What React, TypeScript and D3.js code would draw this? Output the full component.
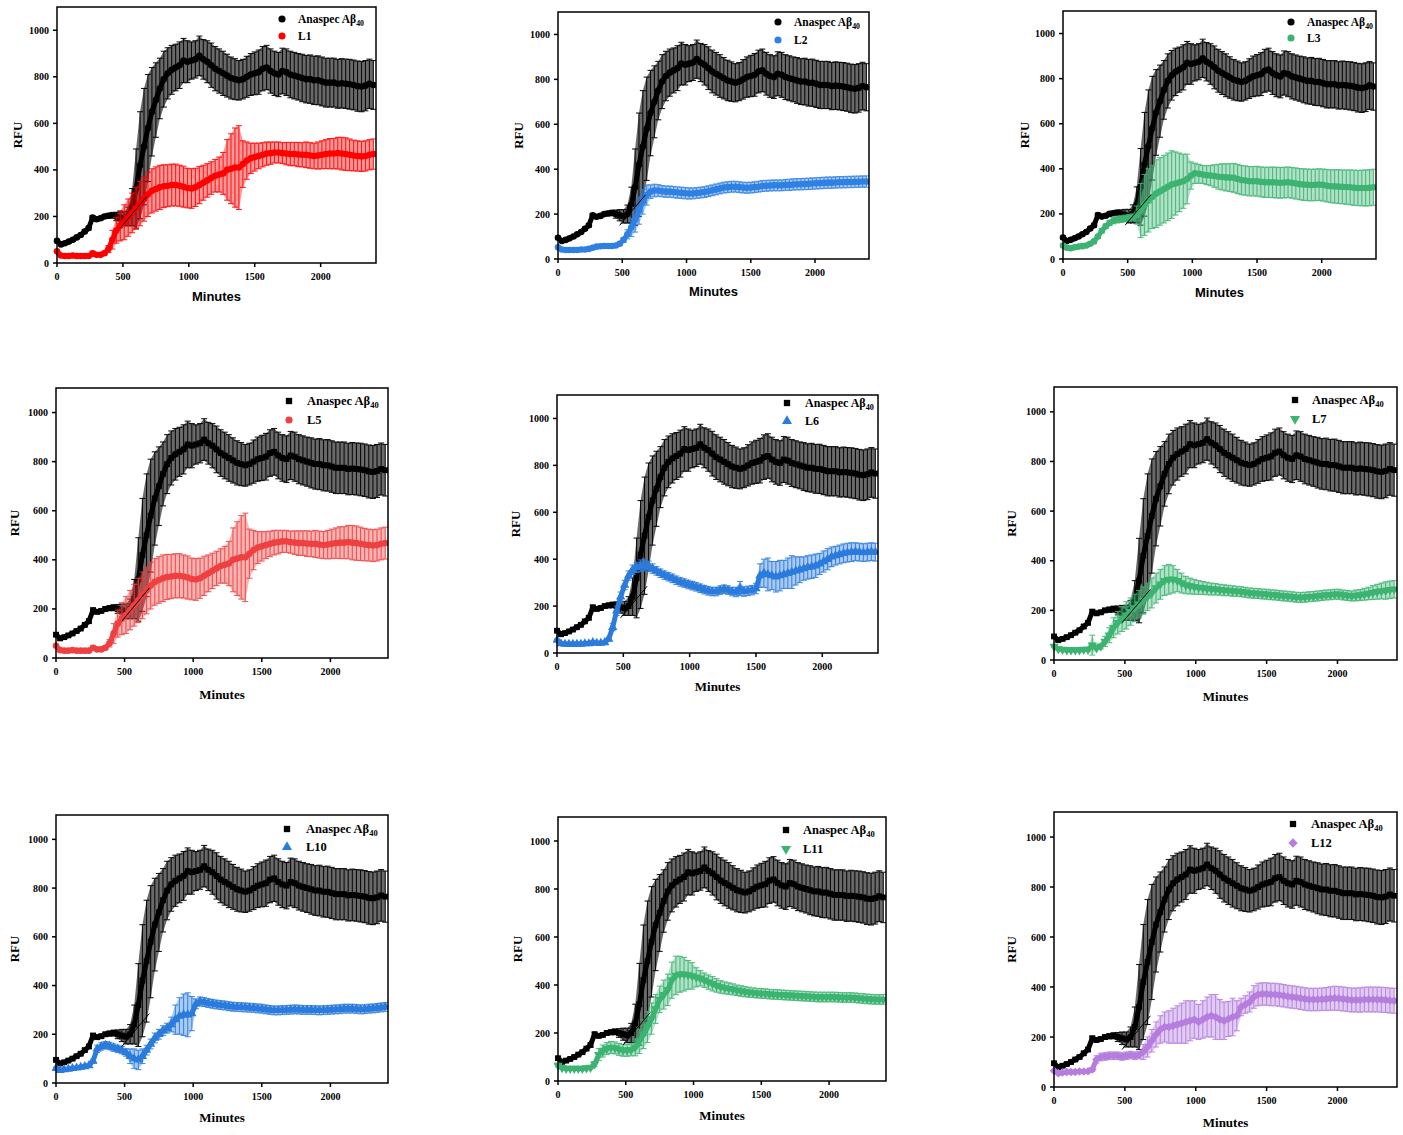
import React from 'react';
import * as d3 from 'd3';

// ---------- DATA ----------
const minutes = [0,30,60,90,120,150,180,210,240,270,300,330,360,390,420,450,480,510,540,570,600,630,660,690,720,750,780,810,840,870,900,930,960,990,1020,1050,1080,1110,1140,1170,1200,1230,1260,1290,1320,1350,1380,1410,1440,1470,1500,1530,1560,1590,1620,1650,1680,1710,1740,1770,1800,1830,1860,1890,1920,1950,1980,2010,2040,2070,2100,2130,2160,2190,2220,2250,2280,2310,2340,2370,2400];

const xTicks = [0, 500, 1000, 1500, 2000];
const yTicks = [0, 200, 400, 600, 800, 1000];

const abMean = [95,80,85,92,100,110,120,135,150,195,188,192,200,203,205,200,195,190,200,240,320,420,500,580,650,700,750,790,815,830,840,850,870,865,870,875,890,875,865,850,835,825,815,805,795,790,785,790,800,810,815,820,835,840,825,815,810,825,820,810,805,800,795,790,790,785,785,780,775,775,775,770,772,770,768,765,760,758,762,770,765];
const abErr = [6,6,6,6,6,6,6,7,8,8,8,8,8,10,12,18,25,30,40,80,170,230,250,230,190,160,130,120,110,105,100,100,95,90,80,80,85,85,90,95,95,95,95,92,90,88,85,85,88,90,92,95,95,95,95,95,95,98,100,100,100,100,102,102,104,104,105,105,105,105,105,105,106,106,107,107,108,108,108,106,105];
const abFitMinutes = [480, 680];
const abFitRFU = [150, 285];

const l1Mean = [50,32,30,30,32,30,30,30,30,42,35,35,42,60,100,140,160,175,195,215,235,255,275,295,310,318,325,330,332,335,335,332,328,322,320,325,335,345,355,365,375,380,385,400,405,410,410,425,440,450,455,460,465,470,472,475,475,472,470,468,468,466,465,465,462,460,462,465,468,470,470,472,470,468,465,462,460,458,460,465,468];
const l1Err = [5,5,5,5,5,5,5,5,5,8,6,6,8,15,40,55,65,75,80,85,90,95,95,95,95,95,95,92,90,90,90,88,88,85,85,82,80,75,72,70,70,75,90,130,150,170,180,100,80,65,60,55,52,50,48,45,45,45,48,50,50,52,52,55,55,55,58,60,62,65,65,68,70,70,68,66,65,65,65,65,65];

const l2Mean = [52,42,40,40,40,40,42,42,45,50,55,57,58,58,58,60,68,85,110,140,175,215,255,285,300,305,305,302,300,300,298,296,295,293,292,292,294,296,298,302,306,310,314,318,320,322,322,320,318,317,318,320,322,325,326,327,328,328,328,330,330,332,333,333,334,335,336,337,338,339,340,340,341,342,342,343,343,344,344,345,345];
const l2Err = [4,4,4,4,4,4,4,4,4,4,4,4,4,4,4,5,6,10,20,40,55,60,55,45,30,28,26,25,25,25,25,25,25,25,25,24,24,24,24,24,24,24,24,24,24,24,24,24,24,24,24,24,24,24,24,24,24,24,24,24,25,25,25,25,25,25,25,25,25,25,25,25,25,25,25,25,25,25,25,25,25];

const l3Mean = [60,50,48,52,55,57,60,68,78,100,125,145,160,170,175,177,180,182,185,195,215,240,260,275,290,300,310,320,330,335,340,345,355,370,380,378,375,372,370,368,365,364,362,361,360,355,350,348,345,345,345,342,340,340,340,339,338,339,340,338,335,332,330,329,328,329,330,328,325,323,322,321,320,319,318,316,315,315,315,316,318];
const l3Err = [8,8,8,8,8,8,8,8,8,8,10,10,12,14,15,15,15,15,15,40,120,135,140,140,150,150,150,150,150,140,130,120,110,60,45,42,40,42,45,50,55,58,60,62,64,65,65,65,65,65,66,66,67,67,68,68,68,68,68,68,69,69,70,70,70,70,70,71,72,73,74,75,75,76,77,78,78,79,80,80,80];

const l5Mean = [50,32,30,30,32,30,30,30,30,42,35,35,42,60,100,140,160,175,195,215,235,255,275,295,310,318,325,330,332,335,335,332,328,322,320,325,335,345,355,365,375,380,385,400,405,410,410,425,440,450,455,460,465,470,472,475,475,472,470,468,468,466,465,465,462,460,462,465,468,470,470,472,470,468,465,462,460,458,460,465,468];
const l5Err = [5,5,5,5,5,5,5,5,5,8,6,6,8,15,40,55,65,75,80,85,90,95,95,95,95,95,95,92,90,90,90,88,88,85,85,82,80,75,72,70,70,75,90,130,150,170,180,100,80,65,60,55,52,50,48,45,45,45,48,50,50,52,52,55,55,55,58,60,62,65,65,68,70,70,68,66,65,65,65,65,65];

const l6Mean = [55,40,38,38,38,38,38,40,40,45,42,42,45,60,110,180,240,290,330,355,365,372,375,370,360,350,340,332,325,318,310,303,298,292,287,282,276,270,265,262,262,268,272,268,262,260,275,262,265,268,275,330,340,335,330,325,330,335,340,345,350,355,360,365,368,372,380,390,400,410,415,420,425,428,430,432,430,428,430,432,430];
const l6Err = [4,4,4,4,4,4,4,4,4,6,4,4,4,8,15,20,20,20,20,20,22,25,25,22,20,18,18,18,18,18,18,18,18,18,18,18,18,18,18,18,18,18,18,18,18,20,30,20,20,20,22,50,60,70,60,65,65,60,65,70,60,55,50,50,50,50,45,45,45,42,40,40,40,40,40,38,38,38,38,38,38];

const l7Mean = [55,45,42,40,40,40,40,42,42,60,48,55,75,100,130,150,165,180,195,210,225,240,255,270,290,305,320,325,325,320,310,302,298,295,292,290,288,286,285,283,281,280,278,277,275,273,270,269,268,266,265,263,262,260,258,257,255,253,252,253,255,256,258,260,262,263,265,265,262,260,258,260,262,265,268,272,275,278,280,283,285];
const l7Err = [4,4,4,4,4,4,4,4,4,40,5,10,20,30,40,45,50,55,55,55,55,55,55,60,60,60,60,60,55,45,40,35,32,30,28,26,25,24,23,22,22,21,21,20,20,20,20,20,20,20,20,20,20,20,20,20,20,20,20,20,20,20,20,20,20,20,20,20,20,20,20,22,22,24,25,28,30,32,35,35,35];

const l10Mean = [60,52,55,57,60,62,65,68,72,90,140,150,155,152,145,140,135,125,110,100,95,110,135,160,185,200,215,225,240,260,275,280,280,285,325,335,332,328,325,322,320,318,315,313,312,311,310,309,308,306,305,302,300,298,298,299,300,301,302,301,300,300,300,299,298,299,300,301,302,303,305,305,305,304,302,303,305,306,308,310,312];
const l10Err = [5,5,5,5,5,5,5,5,5,8,15,15,15,15,15,15,15,15,30,40,40,30,20,20,20,20,20,20,30,60,75,85,90,70,20,18,18,18,18,18,18,18,18,18,18,18,18,18,18,18,18,18,18,18,18,18,18,18,18,18,18,18,18,18,18,18,18,18,18,18,18,18,18,18,18,18,18,18,18,18,18];

const l11Mean = [65,55,52,52,52,52,52,54,56,70,110,125,135,140,138,132,128,128,130,140,165,195,225,260,300,340,360,380,420,440,445,445,442,438,432,428,420,412,405,398,392,388,385,382,378,375,372,370,368,366,365,364,362,361,360,359,358,357,356,355,354,353,352,351,350,350,350,350,350,349,348,348,348,347,345,344,342,341,340,340,340];
const l11Err = [5,5,5,5,5,5,5,5,5,10,25,25,25,25,25,25,25,25,25,35,50,60,65,65,60,55,60,65,75,80,75,70,60,55,40,32,30,30,30,28,26,25,24,23,22,22,21,21,20,20,20,20,20,20,20,20,20,20,20,20,20,20,20,20,20,20,20,20,20,20,20,20,20,20,20,20,20,20,20,20,20];

const l12Mean = [65,55,58,60,60,60,62,62,63,70,110,120,122,125,125,125,122,125,128,125,128,140,160,185,210,230,240,240,245,250,255,260,265,270,260,270,280,285,280,270,265,272,280,285,320,330,340,360,370,372,372,370,370,368,365,362,360,358,355,352,350,350,350,351,352,354,355,354,352,350,348,348,348,350,350,350,350,349,348,346,345];
const l12Err = [5,5,5,5,5,5,5,5,5,8,15,15,15,15,15,15,15,15,15,15,15,30,40,45,50,55,60,65,70,75,80,85,80,75,70,75,80,85,90,80,75,70,75,60,35,35,40,45,45,45,45,45,45,45,45,45,45,45,45,45,45,45,45,45,46,47,48,48,48,48,48,48,49,49,50,50,50,50,50,50,50];

const refLabel = 'Anaspec Aβ';
const refSub = '40';
const xTitle = 'Minutes';
const yTitle = 'RFU';

// ---------- LAYOUT / STYLE ----------
type PanelCfg = {
  name: string; mean: number[]; err: number[]; color: string;
  abShape: string; shape: string;
  frame: [number, number, number, number];
  leg: [number, number, number, number];
  legFont: number; titleSans: boolean; yOff: number; xOff: number;
};

const panels: PanelCfg[] = [
  { name: 'L1', mean: l1Mean, err: l1Err, color: '#ff0000', abShape: 'circle', shape: 'circle', frame: [57, 7, 376, 263], leg: [282, 19, 36, 298], legFont: 11.5, titleSans: true, yOff: 40, xOff: 33 },
  { name: 'L2', mean: l2Mean, err: l2Err, color: '#2f80e3', abShape: 'circle', shape: 'circle', frame: [558, 12, 869, 259], leg: [778, 22, 40, 794], legFont: 11.5, titleSans: true, yOff: 40, xOff: 32 },
  { name: 'L3', mean: l3Mean, err: l3Err, color: '#3cb371', abShape: 'circle', shape: 'circle', frame: [1063, 11, 1376, 259], leg: [1291, 22, 38, 1307], legFont: 11.5, titleSans: true, yOff: 39, xOff: 33 },
  { name: 'L5', mean: l5Mean, err: l5Err, color: '#ee4040', abShape: 'square', shape: 'circle', frame: [56, 388, 388, 658], leg: [289, 401, 420, 307], legFont: 12.5, titleSans: false, yOff: 42, xOff: 36 },
  { name: 'L6', mean: l6Mean, err: l6Err, color: '#2a7bdc', abShape: 'square', shape: 'triangle', frame: [557, 395, 878, 653], leg: [787, 403, 421, 805], legFont: 12, titleSans: false, yOff: 42, xOff: 33 },
  { name: 'L7', mean: l7Mean, err: l7Err, color: '#3cb371', abShape: 'square', shape: 'triangleDown', frame: [1054, 387, 1397, 660], leg: [1295, 400, 419, 1312], legFont: 12.5, titleSans: false, yOff: 43, xOff: 36 },
  { name: 'L10', mean: l10Mean, err: l10Err, color: '#2a7bdc', abShape: 'square', shape: 'triangle', frame: [56, 815, 388, 1083], leg: [287, 829, 847, 306], legFont: 12.5, titleSans: false, yOff: 42, xOff: 34 },
  { name: 'L11', mean: l11Mean, err: l11Err, color: '#3cb371', abShape: 'square', shape: 'triangleDown', frame: [558, 817, 886, 1081], leg: [786, 830, 849, 803], legFont: 12.5, titleSans: false, yOff: 41, xOff: 34 },
  { name: 'L12', mean: l12Mean, err: l12Err, color: '#b57ede', abShape: 'square', shape: 'diamond', frame: [1054, 812, 1397, 1087], leg: [1293, 824, 843, 1311], legFont: 12.5, titleSans: false, yOff: 43, xOff: 35 },
];

const SERIF = '"Liberation Serif", "Times New Roman", serif';
const SANS = '"Liberation Sans", Arial, sans-serif';

function symbolPath(shape: string, size: number): { d: string; rot: number } {
  let type: d3.SymbolType = d3.symbolCircle;
  let rot = 0;
  if (shape === 'square') type = d3.symbolSquare;
  else if (shape === 'triangle') type = d3.symbolTriangle;
  else if (shape === 'triangleDown') { type = d3.symbolTriangle; rot = 180; }
  else if (shape === 'diamond') { type = d3.symbolSquare; rot = 45; }
  return { d: d3.symbol().type(type).size(size)() as string, rot };
}

function Series({ mean, err, color, shape, x, y, barColor, barWidth, barOpacity, bandFill, bandOpacity, size }: any) {
  const sym = symbolPath(shape, size);
  const cap = 3;
  const area = d3.area<number>()
    .x((_, i) => x(minutes[i]))
    .y0((m, i) => y(Math.max(0, m - err[i])))
    .y1((m, i) => y(m + err[i]))(mean) as string;
  const line = d3.line<number>().x((_, i) => x(minutes[i])).y((m) => y(m))(mean) as string;
  return (
    <g>
      <path d={area} fill={bandFill} opacity={bandOpacity} />
      <g stroke={barColor} strokeWidth={barWidth} opacity={barOpacity} fill="none">
        {mean.map((m: number, i: number) => {
          const xi = x(minutes[i]);
          const y1 = y(m + err[i]);
          const y0 = y(Math.max(0, m - err[i]));
          return (
            <g key={i}>
              <line x1={xi} x2={xi} y1={y0} y2={y1} />
              <line x1={xi - cap} x2={xi + cap} y1={y1} y2={y1} />
              <line x1={xi - cap} x2={xi + cap} y1={y0} y2={y0} />
            </g>
          );
        })}
      </g>
      <path d={line} fill="none" stroke={color} strokeWidth={5} strokeLinejoin="round" strokeLinecap="round" />
      <g fill={color}>
        {mean.map((m: number, i: number) => (
          <path key={i} d={sym.d} transform={`translate(${x(minutes[i])},${y(m)}) rotate(${sym.rot})`} />
        ))}
      </g>
    </g>
  );
}

function Panel({ p }: { p: PanelCfg }) {
  const [l, t, r, b] = p.frame;
  const x = d3.scaleLinear().domain([0, 2420]).range([l, r]);
  const y = d3.scaleLinear().domain([0, 1100]).range([b, t]);
  const fitLine = d3.line<number>().x((_, i) => x(abFitMinutes[i])).y((v) => y(v))(abFitRFU) as string;
  const abSym = symbolPath(p.abShape, 40);
  const ligSym = symbolPath(p.shape, p.shape === 'circle' ? 40 : 44);
  const [mx, r1, r2, tx] = p.leg;
  const clipId = `clip-${p.name}`;
  return (
    <g>
      <defs>
        <clipPath id={clipId}>
          <rect x={l - 4} y={t} width={r - l + 4} height={b - t + 1} />
        </clipPath>
      </defs>
      <g clipPath={`url(#${clipId})`}>
        <Series mean={abMean} err={abErr} color="#000" shape={p.abShape} x={x} y={y} barColor="#000" barWidth={1.1} barOpacity={0.9} bandFill="#5a5a5a" bandOpacity={0.9} size={34} />
        <Series mean={p.mean} err={p.err} color={p.color} shape={p.shape} x={x} y={y} barColor={p.color} barWidth={1.1} barOpacity={0.85} bandFill={p.color} bandOpacity={0.4} size={p.shape === 'circle' ? 34 : 38} />
        <path d={fitLine} stroke="#000" strokeWidth={1} fill="none" />
      </g>
      <rect x={l} y={t} width={r - l} height={b - t} fill="none" stroke="#000" strokeWidth={1.5} />
      {xTicks.map((v) => (
        <g key={'x' + v}>
          <line x1={x(v)} x2={x(v)} y1={b} y2={b + 4} stroke="#000" strokeWidth={1.5} />
          <text x={x(v)} y={b + 17} textAnchor="middle" fontFamily={SERIF} fontWeight="bold" fontSize={10}>{v}</text>
        </g>
      ))}
      {yTicks.map((v) => (
        <g key={'y' + v}>
          <line x1={l - 4} x2={l} y1={y(v)} y2={y(v)} stroke="#000" strokeWidth={1.5} />
          <text x={l - 8} y={y(v) + 3.5} textAnchor="end" fontFamily={SERIF} fontWeight="bold" fontSize={10}>{v}</text>
        </g>
      ))}
      <text x={(l + r) / 2} y={b + p.xOff + 4.5} textAnchor="middle" fontFamily={p.titleSans ? SANS : SERIF} fontWeight="bold" fontSize={13}>{xTitle}</text>
      <text transform={`translate(${l - p.yOff + 4.5},${(t + b) / 2}) rotate(-90)`} textAnchor="middle" fontFamily={SERIF} fontWeight="bold" fontSize={13}>{yTitle}</text>
      <path d={abSym.d} transform={`translate(${mx},${r1}) rotate(${abSym.rot})`} fill="#000" />
      <text x={tx} y={r1 + 4} fontFamily={SERIF} fontWeight="bold" fontSize={p.legFont}>
        {refLabel}
        <tspan fontSize={p.legFont * 0.68} dy={3}>{refSub}</tspan>
      </text>
      <path d={ligSym.d} transform={`translate(${mx},${r2}) rotate(${ligSym.rot})`} fill={p.color} />
      <text x={tx} y={r2 + 4} fontFamily={SERIF} fontWeight="bold" fontSize={p.legFont}>{p.name}</text>
    </g>
  );
}

export default function App() {
  return (
    <svg width={1403} height={1135} style={{ position: 'absolute', left: 0, top: 0, background: '#fff' }}>
      <rect x={0} y={0} width={1403} height={1135} fill="#fff" />
      {panels.map((p) => <Panel key={p.name} p={p} />)}
    </svg>
  );
}
